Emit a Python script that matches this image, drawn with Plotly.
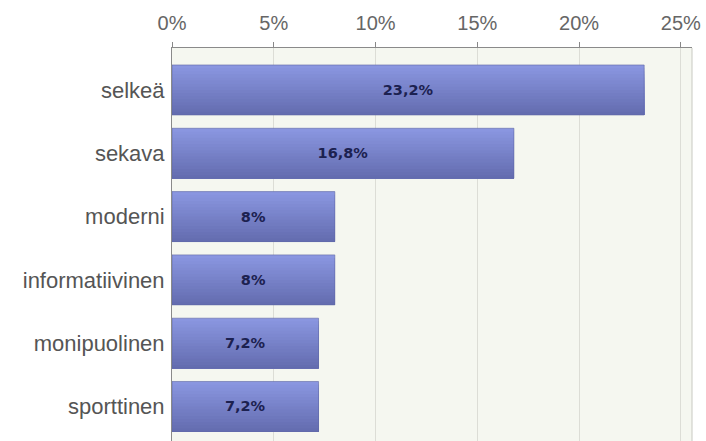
import plotly.graph_objects as go

# Survey answers and their share of respondents (%)
categories = ["selkeä", "sekava", "moderni", "informatiivinen", "monipuolinen", "sporttinen"]
shares = [23.2, 16.8, 8.0, 8.0, 7.2, 7.2]
x_ticks = [0, 5, 10, 15, 20, 25]
x_tick_labels = ["0%", "5%", "10%", "15%", "20%", "25%"]


def fmt_pct(v):
    s = f"{v:g}".replace(".", ",")
    return s + "%"


bar_width = 0.79
n_strips = 16
top_rgb = (138, 150, 224)
bottom_rgb = (100, 109, 176)

fig = go.Figure()

# Vertical colour gradient on each bar: each layer runs from its own top edge
# down to the bar bottom, so darker layers cover the lighter ones without seams
for k in range(n_strips):
    t = k / (n_strips - 1)
    rgb = tuple(round(a + (b - a) * t) for a, b in zip(top_rgb, bottom_rgb))
    start = k * bar_width / n_strips
    fig.add_trace(go.Bar(
        x=shares,
        y=categories,
        orientation="h",
        width=bar_width - start,
        offset=-bar_width / 2 + start,
        marker=dict(color=f"rgb{rgb}", line=dict(width=0)),
        hoverinfo="skip",
        showlegend=False,
    ))

# Outline and value labels
fig.add_trace(go.Bar(
    x=shares,
    y=categories,
    orientation="h",
    width=bar_width,
    marker=dict(color="rgba(0,0,0,0)", line=dict(color="rgba(95,103,165,0.6)", width=1)),
    text=[fmt_pct(v) for v in shares],
    textposition="inside",
    insidetextanchor="middle",
    textangle=0,
    textfont=dict(family="DejaVu Sans", size=14.5, color="#1c2150", weight="bold"),
    showlegend=False,
))

fig.update_layout(
    width=706,
    height=441,
    margin=dict(l=172, r=14, t=48, b=0),
    paper_bgcolor="white",
    plot_bgcolor="#f5f7f0",
    barmode="overlay",
    uniformtext=dict(minsize=8),
    xaxis=dict(
        side="top",
        range=[0, 25.55],
        tickvals=x_ticks,
        ticktext=x_tick_labels,
        ticks="outside",
        ticklen=5,
        tickcolor="#888888",
        tickfont=dict(family="Liberation Sans", size=20, color="#666666"),
        ticklabelstandoff=4,
        showgrid=True,
        gridcolor="#dcddd6",
        gridwidth=1,
        showline=True,
        linecolor="#8a8a8a",
        linewidth=1,
        mirror=False,
        zeroline=False,
        fixedrange=True,
    ),
    yaxis=dict(
        type="category",
        categoryorder="array",
        categoryarray=categories,
        range=[5.545, -0.663],
        ticks="",
        tickfont=dict(family="Liberation Sans", size=22, color="#555555"),
        ticklabelstandoff=2,
        showline=True,
        linecolor="#8a8a8a",
        linewidth=1,
        showgrid=False,
        zeroline=False,
        fixedrange=True,
    ),
)

# Light frame on the right edge of the plot area
fig.add_shape(type="line", xref="paper", yref="paper", x0=1, x1=1, y0=0, y1=1,
              line=dict(color="#c8c9c2", width=1))

fig.write_html("out.html")
